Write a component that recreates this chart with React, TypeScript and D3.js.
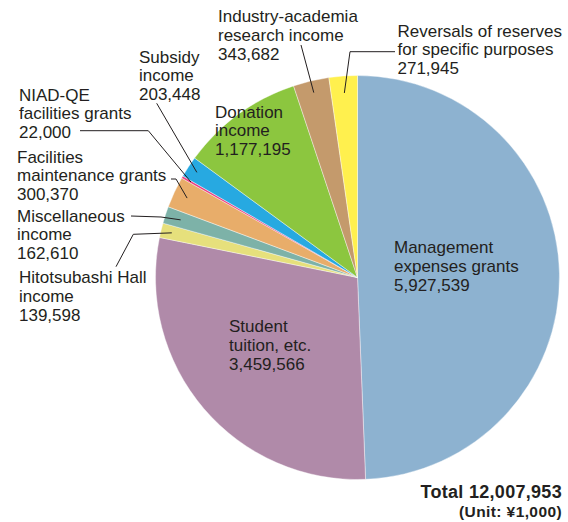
import * as d3 from 'd3'
import { useEffect, useRef } from 'react'

const W = 568
const H = 522

// slices, clockwise from 12 o'clock
const categories = [
  'Management expenses grants',
  'Student tuition, etc.',
  'Hitotsubashi Hall income',
  'Miscellaneous income',
  'Facilities maintenance grants',
  'NIAD-QE facilities grants',
  'Subsidy income',
  'Donation income',
  'Industry-academia research income',
  'Reversals of reserves for specific purposes',
]
const values = [5927539, 3459566, 139598, 162610, 300370, 22000, 203448, 1177195, 343682, 271945]
const colors = ['#8db2d0', '#b08aa9', '#e6e07c', '#7db2a8', '#e8ad6a', '#ec3f82', '#27a9e1', '#8cc63f', '#c49a6c', '#fff04e']
const labelLines = [
  ['Management', 'expenses grants'],
  ['Student', 'tuition, etc.'],
  ['Hitotsubashi Hall', 'income'],
  ['Miscellaneous', 'income'],
  ['Facilities', 'maintenance grants'],
  ['NIAD-QE', 'facilities grants'],
  ['Subsidy', 'income'],
  ['Donation', 'income'],
  ['Industry-academia', 'research income'],
  ['Reversals of reserves', 'for specific purposes'],
]

// label placement: first baseline, and leader polyline up to the slice (anchor radius)
const labelPos: { x: number; y: number; leader?: number[][]; r?: number }[] = [
  { x: 394, y: 253 },
  { x: 229, y: 332 },
  { x: 19, y: 283, leader: [[116, 266.7], [133.3, 234.3]], r: 191 },
  { x: 17, y: 221.5, leader: [[131, 216], [161, 217]], r: 186 },
  { x: 17, y: 162.5, leader: [[171, 179], [176, 179]], r: 188 },
  { x: 19, y: 100.5, leader: [[80, 130.7], [148.3, 130.7]], r: 192 },
  { x: 139, y: 62.5, leader: [[156.7, 103.3]], r: 192 },
  { x: 215, y: 117.5 },
  { x: 218, y: 22.3, leader: [[301, 45]], r: 190 },
  { x: 397.5, y: 36.5, leader: [[395, 51.7], [350, 51.7]], r: 185 },
]

const total = 12007953
const cx = 357.5
const cy = 277.5
const radius = 202

export default function App() {
  const ref = useRef<SVGSVGElement>(null)

  useEffect(() => {
    const svg = d3.select(ref.current)
    svg.selectAll('*').remove()

    const data = values.map((v, i) => ({ name: categories[i], value: v, i }))
    const pie = d3.pie<any>().sort(null).value((d) => d.value)
    const arcs = pie(data)
    const arc = d3.arc<any>().innerRadius(0).outerRadius(radius)

    const g = svg.append('g').attr('transform', `translate(${cx},${cy})`)
    g.selectAll('path.slice')
      .data(arcs)
      .join('path')
      .attr('class', 'slice')
      .attr('d', arc)
      .attr('fill', (d) => colors[d.data.i])
      .attr('stroke', '#ffffff')
      .attr('stroke-width', 0.4)

    const fmt = d3.format(',')
    const lh = 18.8

    arcs.forEach((a, i) => {
      const p = labelPos[i]
      if (p.leader && p.r) {
        const mid = (a.startAngle + a.endAngle) / 2
        const ax = cx + Math.sin(mid) * p.r
        const ay = cy - Math.cos(mid) * p.r
        const pts = [...p.leader, [ax, ay]] as [number, number][]
        svg
          .append('path')
          .attr('d', d3.line()(pts))
          .attr('fill', 'none')
          .attr('stroke', '#231f20')
          .attr('stroke-width', 1)
      }
      const t = svg
        .append('text')
        .attr('x', p.x)
        .attr('y', p.y)
        .attr('fill', '#231f20')
        .style('font-family', '"Liberation Sans", Arial, sans-serif')
        .style('font-size', '17px')
      const lines = [...labelLines[i], fmt(values[i])]
      lines.forEach((s, k) => {
        t.append('tspan').attr('x', p.x).attr('y', p.y + k * lh).text(s)
      })
    })

    svg
      .append('text')
      .attr('x', 562)
      .attr('y', 497.5)
      .attr('text-anchor', 'end')
      .attr('fill', '#231f20')
      .style('font-family', '"Liberation Sans", Arial, sans-serif')
      .style('font-weight', 'bold')
      .style('font-size', '18px')
      .style('letter-spacing', '0.3px')
      .text(`Total ${fmt(total)}`)
    svg
      .append('text')
      .attr('x', 562)
      .attr('y', 516.5)
      .attr('text-anchor', 'end')
      .attr('fill', '#231f20')
      .style('font-family', '"Liberation Sans", Arial, sans-serif')
      .style('font-weight', 'bold')
      .style('font-size', '15.5px')
      .style('letter-spacing', '0.4px')
      .text('(Unit: ¥1,000)')
  }, [])

  return (
    <svg
      ref={ref}
      width={W}
      height={H}
      style={{ position: 'absolute', left: 0, top: 0, background: '#fff' }}
    />
  )
}
